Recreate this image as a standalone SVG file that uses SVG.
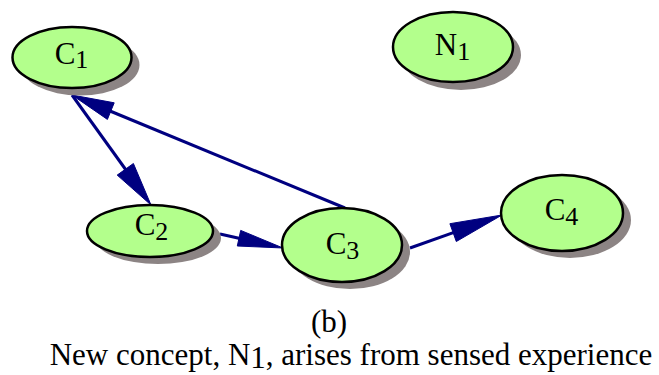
<svg xmlns="http://www.w3.org/2000/svg" width="659" height="375" viewBox="0 0 659 375">
<style>
.sh{fill:#8c8484}
.nd{fill:#b3ff8c;stroke:#000;stroke-width:2.5}
text{font-family:'Liberation Serif','Times New Roman',serif;fill:#000}
.lb{font-size:31px}
.sub{font-size:26px}
.ln{stroke:#000080;stroke-width:3;fill:none}
.ah{fill:#000080;stroke:#000080;stroke-width:1}
.cap{font-size:31px}
</style>
<rect width="659" height="375" fill="#fff"/>
<g id="connectors">
<line class="ln" x1="72" y1="95" x2="126" y2="170"/>
<polygon class="ah" points="151,205 117.2,175.1 133.4,163.5"/>
<line class="ln" x1="345" y1="208" x2="110" y2="111"/>
<polygon class="ah" points="72,95 114.2,102.8 107.4,119.4"/>
<line class="ln" x1="220" y1="234" x2="240" y2="238.5"/>
<polygon class="ah" points="283,248 237.3,246 240.7,230.4"/>
<line class="ln" x1="410" y1="248" x2="454" y2="232.3"/>
<polygon class="ah" points="502,215 456.3,241.5 449.9,223.7"/>
</g>
<g id="C1">
<ellipse class="sh" cx="80" cy="65" rx="59.5" ry="30.5"/>
<ellipse class="nd" cx="72" cy="57.5" rx="59.5" ry="30.5"/>
<text class="lb" x="71.5" y="63.5" text-anchor="middle">C<tspan class="sub" dy="4.5">1</tspan></text>
</g>
<g id="N1">
<ellipse class="sh" cx="461" cy="55" rx="60" ry="35"/>
<ellipse class="nd" cx="453" cy="47" rx="60" ry="35"/>
<text class="lb" x="452.5" y="55" text-anchor="middle">N<tspan class="sub" dy="4.5">1</tspan></text>
</g>
<g id="C2">
<ellipse class="sh" cx="158" cy="238" rx="63" ry="26"/>
<ellipse class="nd" cx="150" cy="231" rx="63" ry="26"/>
<text class="lb" x="151.5" y="235" text-anchor="middle">C<tspan class="sub" dy="4.5">2</tspan></text>
</g>
<g id="C3">
<ellipse class="sh" cx="350" cy="252" rx="60" ry="37"/>
<ellipse class="nd" cx="342" cy="245" rx="60" ry="37"/>
<text class="lb" x="342.5" y="254" text-anchor="middle">C<tspan class="sub" dy="4.5">3</tspan></text>
</g>
<g id="C4">
<ellipse class="sh" cx="570" cy="220" rx="61" ry="38"/>
<ellipse class="nd" cx="562" cy="213" rx="61" ry="38"/>
<text class="lb" x="561.5" y="220" text-anchor="middle">C<tspan class="sub" dy="4.5">4</tspan></text>
</g>
<g id="caption">
<text class="cap" x="329" y="331.5" text-anchor="middle">(b)</text>
<text class="cap" x="351" y="364.5" text-anchor="middle">New concept, N<tspan dy="3.5">1</tspan><tspan dy="-3.5">, arises from sensed experience</tspan></text>
</g>
</svg>
